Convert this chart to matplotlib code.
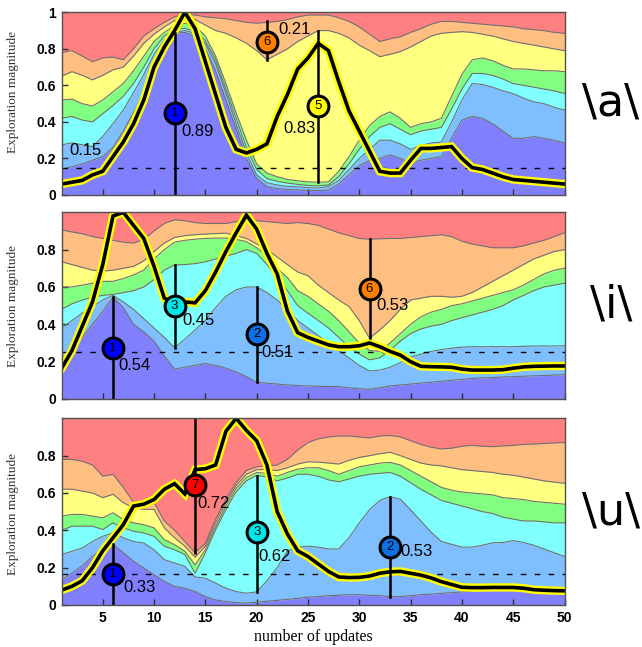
import matplotlib
matplotlib.use("Agg")
import matplotlib.pyplot as plt
import numpy as np

updates = np.arange(1, 51)

# \a\ : cumulative tops of the stacked layers (bottom -> top), red fills up to 1
a_blue = [0.14, 0.155, 0.17, 0.19, 0.21, 0.26, 0.35, 0.45, 0.56, 0.68, 0.79, 0.885, 0.89, 0.87, 0.80,
          0.68, 0.52, 0.36, 0.20, 0.09, 0.045, 0.035, 0.03, 0.028, 0.025, 0.024, 0.027, 0.06, 0.11, 0.16,
          0.19, 0.20, 0.22, 0.20, 0.175, 0.19, 0.20, 0.21, 0.31, 0.41, 0.43, 0.42, 0.39, 0.35, 0.31,
          0.31, 0.32, 0.31, 0.30, 0.285]
a_lblue = [0.275, 0.285, 0.275, 0.265, 0.32, 0.39, 0.465, 0.56, 0.66, 0.77, 0.85, 0.89, 0.90, 0.885, 0.83,
           0.72, 0.56, 0.39, 0.23, 0.11, 0.067, 0.055, 0.047, 0.045, 0.04, 0.038, 0.046, 0.08, 0.14, 0.20,
           0.25, 0.30, 0.30, 0.28, 0.25, 0.27, 0.285, 0.29, 0.40, 0.52, 0.61, 0.605, 0.59, 0.57, 0.555,
           0.53, 0.51, 0.50, 0.48, 0.465]
a_cyan = [0.42, 0.43, 0.41, 0.40, 0.445, 0.49, 0.54, 0.61, 0.70, 0.80, 0.87, 0.905, 0.912, 0.895, 0.845,
          0.74, 0.58, 0.42, 0.26, 0.14, 0.09, 0.075, 0.065, 0.058, 0.052, 0.05, 0.055, 0.10, 0.17, 0.25,
          0.32, 0.37, 0.39, 0.36, 0.33, 0.35, 0.36, 0.37, 0.47, 0.58, 0.665, 0.665, 0.655, 0.635, 0.61,
          0.60, 0.59, 0.58, 0.57, 0.556]
a_green = [0.52, 0.525, 0.50, 0.487, 0.52, 0.565, 0.61, 0.68, 0.76, 0.84, 0.89, 0.925, 0.94, 0.925, 0.87,
           0.76, 0.61, 0.45, 0.30, 0.17, 0.12, 0.10, 0.085, 0.078, 0.072, 0.07, 0.072, 0.13, 0.21, 0.30,
           0.38, 0.43, 0.455, 0.42, 0.37, 0.39, 0.40, 0.42, 0.54, 0.66, 0.74, 0.75, 0.735, 0.71, 0.69,
           0.69, 0.685, 0.68, 0.68, 0.675]
a_yellow = [0.65, 0.675, 0.655, 0.63, 0.655, 0.685, 0.70, 0.76, 0.83, 0.88, 0.92, 0.955, 0.965, 0.96, 0.93,
            0.90, 0.885, 0.86, 0.83, 0.79, 0.74, 0.77, 0.80, 0.84, 0.87, 0.90, 0.90, 0.885, 0.86, 0.82,
            0.79, 0.757, 0.77, 0.785, 0.81, 0.84, 0.87, 0.885, 0.89, 0.894, 0.89, 0.88, 0.87, 0.855, 0.84,
            0.83, 0.82, 0.81, 0.80, 0.79]
a_orange = [0.78, 0.79, 0.76, 0.73, 0.75, 0.755, 0.74, 0.80, 0.87, 0.91, 0.945, 0.975, 0.99, 0.985, 0.975,
            0.97, 0.965, 0.955, 0.945, 0.94, 0.945, 0.95, 0.96, 0.975, 0.985, 0.985, 0.985, 0.97, 0.95, 0.92,
            0.88, 0.84, 0.855, 0.866, 0.89, 0.91, 0.935, 0.95, 0.95, 0.945, 0.94, 0.935, 0.93, 0.925, 0.92,
            0.91, 0.905, 0.90, 0.89, 0.885]
a_line = [0.06, 0.07, 0.08, 0.11, 0.13, 0.21, 0.29, 0.39, 0.52, 0.70, 0.81, 0.90, 1.0, 0.91, 0.73,
          0.55, 0.37, 0.25, 0.23, 0.25, 0.28, 0.43, 0.55, 0.69, 0.75, 0.83, 0.79, 0.62, 0.46, 0.35,
          0.24, 0.13, 0.12, 0.12, 0.19, 0.255, 0.255, 0.26, 0.265, 0.20, 0.15, 0.14, 0.12, 0.10, 0.085,
          0.08, 0.075, 0.07, 0.065, 0.06]

# \i\
i_blue = [0.19, 0.26, 0.33, 0.40, 0.47, 0.545, 0.49, 0.40, 0.36, 0.31, 0.23, 0.16, 0.17, 0.18, 0.19,
          0.18, 0.165, 0.145, 0.12, 0.09, 0.084, 0.08, 0.075, 0.072, 0.07, 0.068, 0.067, 0.066, 0.06, 0.055,
          0.052, 0.06, 0.07, 0.075, 0.08, 0.085, 0.09, 0.095, 0.10, 0.105, 0.11, 0.113, 0.115, 0.118, 0.12,
          0.122, 0.124, 0.126, 0.128, 0.13]
i_lblue = [0.38, 0.42, 0.46, 0.495, 0.53, 0.555, 0.52, 0.48, 0.43, 0.38, 0.33, 0.275, 0.32, 0.37, 0.42,
           0.49, 0.55, 0.585, 0.60, 0.60, 0.57, 0.53, 0.48, 0.42, 0.38, 0.34, 0.30, 0.26, 0.22, 0.18,
           0.15, 0.155, 0.17, 0.195, 0.225, 0.24, 0.255, 0.265, 0.272, 0.278, 0.28, 0.28, 0.28, 0.28, 0.28,
           0.282, 0.284, 0.284, 0.284, 0.285]
i_cyan = [0.48, 0.51, 0.53, 0.545, 0.555, 0.56, 0.57, 0.58, 0.60, 0.64, 0.69, 0.718, 0.72, 0.725, 0.735,
          0.75, 0.765, 0.78, 0.80, 0.78, 0.72, 0.65, 0.58, 0.50, 0.46, 0.42, 0.38, 0.33, 0.28, 0.24,
          0.21, 0.22, 0.26, 0.31, 0.35, 0.375, 0.39, 0.40, 0.42, 0.435, 0.45, 0.465, 0.48, 0.50, 0.53,
          0.555, 0.58, 0.60, 0.61, 0.62]
i_green = [0.60, 0.60, 0.61, 0.62, 0.63, 0.63, 0.645, 0.665, 0.69, 0.75, 0.80, 0.84, 0.85, 0.856, 0.86,
           0.862, 0.862, 0.855, 0.843, 0.81, 0.77, 0.70, 0.65, 0.58, 0.55, 0.51, 0.47, 0.42, 0.36, 0.30,
           0.26, 0.255, 0.30, 0.35, 0.40, 0.44, 0.465, 0.48, 0.50, 0.51, 0.525, 0.54, 0.555, 0.57, 0.585,
           0.61, 0.64, 0.67, 0.69, 0.70]
i_yellow = [0.735, 0.72, 0.705, 0.69, 0.685, 0.69, 0.70, 0.71, 0.74, 0.79, 0.835, 0.865, 0.875, 0.88, 0.883,
            0.886, 0.888, 0.875, 0.86, 0.83, 0.80, 0.76, 0.72, 0.68, 0.66, 0.61, 0.57, 0.53, 0.495, 0.42,
            0.325, 0.37, 0.42, 0.48, 0.53, 0.54, 0.55, 0.55, 0.545, 0.55, 0.57, 0.60, 0.63, 0.66, 0.69,
            0.72, 0.75, 0.77, 0.79, 0.80]
i_orange = [0.905, 0.895, 0.885, 0.87, 0.86, 0.85, 0.84, 0.835, 0.855, 0.90, 0.94, 0.96, 0.955, 0.945, 0.94,
            0.94, 0.94, 0.95, 0.96, 0.955, 0.95, 0.945, 0.94, 0.945, 0.94, 0.93, 0.91, 0.89, 0.875, 0.86,
            0.856, 0.858, 0.86, 0.86, 0.865, 0.87, 0.875, 0.88, 0.87, 0.845, 0.83, 0.82, 0.81, 0.81, 0.81,
            0.82, 0.835, 0.85, 0.87, 0.89]
i_line = [0.165, 0.26, 0.39, 0.52, 0.72, 0.98, 1.0, 0.93, 0.86, 0.71, 0.54, 0.515, 0.52, 0.515, 0.58,
          0.68, 0.79, 0.89, 0.985, 0.91, 0.78, 0.67, 0.47, 0.355, 0.33, 0.31, 0.29, 0.28, 0.28, 0.285,
          0.30, 0.28, 0.255, 0.235, 0.20, 0.175, 0.173, 0.172, 0.17, 0.16, 0.155, 0.155, 0.155, 0.157, 0.165,
          0.172, 0.175, 0.176, 0.177, 0.177]

# \u\
u_blue = [0.135, 0.17, 0.21, 0.26, 0.30, 0.325, 0.28, 0.234, 0.198, 0.162, 0.126, 0.099, 0.09, 0.072, 0.045,
          0.027, 0.018, 0.013, 0.01, 0.015, 0.02, 0.025, 0.03, 0.036, 0.042, 0.045, 0.05, 0.052, 0.055, 0.055,
          0.052, 0.05, 0.045, 0.045, 0.05, 0.055, 0.058, 0.062, 0.066, 0.07, 0.075, 0.078, 0.08, 0.08, 0.08,
          0.078, 0.076, 0.075, 0.075, 0.075]
u_lblue = [0.27, 0.288, 0.305, 0.34, 0.368, 0.386, 0.36, 0.34, 0.332, 0.296, 0.243, 0.225, 0.207, 0.15, 0.144,
           0.117, 0.09, 0.072, 0.063, 0.07, 0.13, 0.20, 0.29, 0.31, 0.315, 0.31, 0.30, 0.30, 0.36, 0.44,
           0.51, 0.56, 0.58, 0.567, 0.51, 0.45, 0.39, 0.34, 0.325, 0.31, 0.31, 0.32, 0.333, 0.335, 0.345,
           0.335, 0.32, 0.30, 0.28, 0.26]
u_cyan = [0.40, 0.422, 0.422, 0.422, 0.404, 0.44, 0.413, 0.395, 0.386, 0.368, 0.314, 0.296, 0.27, 0.17, 0.28,
          0.404, 0.512, 0.606, 0.665, 0.695, 0.685, 0.665, 0.68, 0.70, 0.70, 0.69, 0.67, 0.66, 0.675, 0.69,
          0.70, 0.705, 0.71, 0.69, 0.655, 0.62, 0.59, 0.56, 0.545, 0.53, 0.515, 0.50, 0.49, 0.47, 0.46,
          0.45, 0.45, 0.445, 0.44, 0.44]
u_green = [0.476, 0.485, 0.485, 0.476, 0.467, 0.494, 0.458, 0.44, 0.43, 0.413, 0.35, 0.323, 0.288, 0.215, 0.296,
           0.42, 0.53, 0.624, 0.683, 0.71, 0.705, 0.69, 0.71, 0.728, 0.735, 0.735, 0.72, 0.70, 0.72, 0.74,
           0.75, 0.76, 0.764, 0.75, 0.72, 0.69, 0.66, 0.63, 0.615, 0.605, 0.60, 0.595, 0.59, 0.575, 0.57,
           0.565, 0.555, 0.55, 0.545, 0.54]
u_yellow = [0.62, 0.62, 0.61, 0.60, 0.575, 0.593, 0.548, 0.52, 0.512, 0.512, 0.413, 0.36, 0.315, 0.255, 0.315,
            0.44, 0.548, 0.64, 0.70, 0.725, 0.725, 0.72, 0.735, 0.755, 0.767, 0.765, 0.76, 0.755, 0.775, 0.79,
            0.80, 0.81, 0.818, 0.80, 0.78, 0.76, 0.75, 0.745, 0.735, 0.725, 0.72, 0.715, 0.71, 0.70, 0.695,
            0.685, 0.675, 0.665, 0.658, 0.652]
u_orange = [0.78, 0.78, 0.77, 0.75, 0.69, 0.70, 0.63, 0.55, 0.55, 0.55, 0.45, 0.40, 0.34, 0.28, 0.33,
            0.46, 0.566, 0.656, 0.72, 0.74, 0.745, 0.75, 0.78, 0.83, 0.87, 0.89, 0.90, 0.905, 0.905, 0.90,
            0.895, 0.905, 0.908, 0.90, 0.88, 0.86, 0.845, 0.836, 0.84, 0.85, 0.855, 0.85, 0.848, 0.852, 0.855,
            0.86, 0.862, 0.865, 0.868, 0.87]
u_line = [0.08, 0.10, 0.13, 0.20, 0.29, 0.36, 0.43, 0.53, 0.54, 0.565, 0.62, 0.65, 0.595, 0.725, 0.73,
          0.75, 0.93, 1.0, 0.935, 0.88, 0.75, 0.50, 0.38, 0.29, 0.26, 0.22, 0.18, 0.15, 0.147, 0.148,
          0.155, 0.17, 0.178, 0.18, 0.17, 0.16, 0.145, 0.125, 0.11, 0.095, 0.093, 0.093, 0.094, 0.094, 0.094,
          0.09, 0.082, 0.079, 0.077, 0.076]

layer_colors = ["#8080ff", "#80bfff", "#80ffff", "#80ff80", "#ffff80", "#ffbf80", "#ff8080"]

# marker: (update, low, high, circle y, number, fill, text, text x, text y, align)
panels = [
    dict(tops=[a_blue, a_lblue, a_cyan, a_green, a_yellow, a_orange], line=a_line,
         base=0.15, name="\\a\\", name_y=103, ylab_y=92, bottom=195, height=182.7,
         yticks=[0, 0.2, 0.4, 0.6, 0.8, 1], extra=[("0.15", 1.7, 0.246)],
         marks=[(12, 0.0, 0.885, 0.447, "1", "#0000ff", "0.89", 12.7, 0.347, "left"),
                (21, 0.74, 0.95, 0.84, "6", "#ff7f00", "0.21", 22.1, 0.907, "left"),
                (26, 0.07, 0.90, 0.487, "5", "#ffff00", "0.83", 25.7, 0.365, "right")]),
    dict(tops=[i_blue, i_lblue, i_cyan, i_green, i_yellow, i_orange], line=i_line,
         base=0.25, name="\\i\\", name_y=305, ylab_y=306, bottom=399, height=186.7,
         yticks=[0, 0.2, 0.4, 0.6, 0.8], extra=[],
         marks=[(6, 0.0, 0.545, 0.272, "1", "#0000ff", "0.54", 6.5, 0.182, "left"),
                (12, 0.275, 0.718, 0.50, "3", "#00e5e5", "0.45", 12.8, 0.42, "left"),
                (20, 0.09, 0.60, 0.35, "2", "#0f70e6", "0.51", 20.5, 0.25, "left"),
                (31, 0.325, 0.856, 0.59, "6", "#ff7f00", "0.53", 31.7, 0.499, "left")]),
    dict(tops=[u_blue, u_lblue, u_cyan, u_green, u_yellow, u_orange], line=u_line,
         base=0.165, name="\\u\\", name_y=512, ylab_y=514, bottom=605, height=186.7,
         yticks=[0, 0.2, 0.4, 0.6, 0.8], extra=[],
         marks=[(6, 0.0, 0.325, 0.165, "1", "#0000ff", "0.33", 7.0, 0.094, "left"),
                (14, 0.28, 1.0, 0.645, "7", "#ff0000", "0.72", 14.25, 0.543, "left"),
                (20, 0.07, 0.69, 0.39, "3", "#00e5e5", "0.62", 20.2, 0.26, "left"),
                (33, 0.045, 0.58, 0.31, "2", "#0f70e6", "0.53", 34.0, 0.288, "left")]),
]

W, H = 642, 647
fig = plt.figure(figsize=(W / 100, H / 100), dpi=100)
tick_font = dict(family="Liberation Sans", weight="bold", size=10)

for k, p in enumerate(panels):
    ax = fig.add_axes([61.7 / W, 1 - p["bottom"] / H, 502.8 / W, p["height"] / H])
    lower = np.zeros(len(updates))
    for top, col in zip(p["tops"] + [np.ones(len(updates))], layer_colors):
        top = np.asarray(top, dtype=float)
        ax.fill_between(updates, lower, top, color=col, lw=0, zorder=1)
        lower = top
    for top in p["tops"]:
        ax.plot(updates, top, color="#707070", lw=0.8, zorder=2)

    ax.axhline(p["base"], color="black", lw=1, dashes=(4, 6), zorder=3)
    ax.plot(updates, p["line"], color="#ffff00", lw=6, zorder=4, solid_joinstyle="miter")
    ax.plot(updates, p["line"], color="black", lw=2.6, zorder=5, solid_joinstyle="miter")

    for (ux, lo, hi, cy, num, fc, txt, tx, ty, ha) in p["marks"]:
        ax.plot([ux, ux], [lo, hi], color="black", lw=1.8, zorder=6)
        ax.plot(ux, cy, "o", ms=15, mfc=fc, mec="black", mew=2.2, zorder=7, clip_on=False)
        ax.text(ux, cy, num, ha="center", va="center", fontsize=9.5,
                family="Liberation Sans", zorder=8)
        ax.text(tx, ty, txt, ha=ha, va="center", fontsize=12, family="Liberation Sans", zorder=8)
    for (txt, tx, ty) in p["extra"]:
        ax.text(tx, ty, txt, ha="left", va="center", fontsize=12, family="Liberation Sans", zorder=8)

    ax.set_xlim(1, 50)
    ax.set_ylim(0, 1)
    ax.set_xticks([5, 10, 15, 20, 25, 30, 35, 40, 45, 50])
    ax.set_yticks(p["yticks"])
    ax.set_yticklabels(["%g" % v for v in p["yticks"]], fontdict=tick_font)
    if k == 2:
        ax.set_xticklabels([str(v) for v in range(5, 51, 5)], fontdict=tick_font)
        ax.set_xlabel("number of updates", family="Liberation Serif", fontsize=11.5, labelpad=3)
    else:
        ax.set_xticklabels([])
    ax.tick_params(direction="in", length=4, width=1, color="#303030", top=False, right=False, pad=4)
    for s in ax.spines.values():
        s.set_color("#505050")
        s.set_linewidth(1)
        s.set_zorder(9)

    fig.text(13 / W, 1 - p["ylab_y"] / H, "Exploration magnitude", rotation=90, ha="center",
             va="center", family="Liberation Serif", fontsize=9.5, color="#333333")
    fig.text(611 / W, 1 - p["name_y"] / H, p["name"], ha="center", va="center",
             family="DejaVu Sans", fontsize=32)

fig.savefig("out.png", dpi=100)
